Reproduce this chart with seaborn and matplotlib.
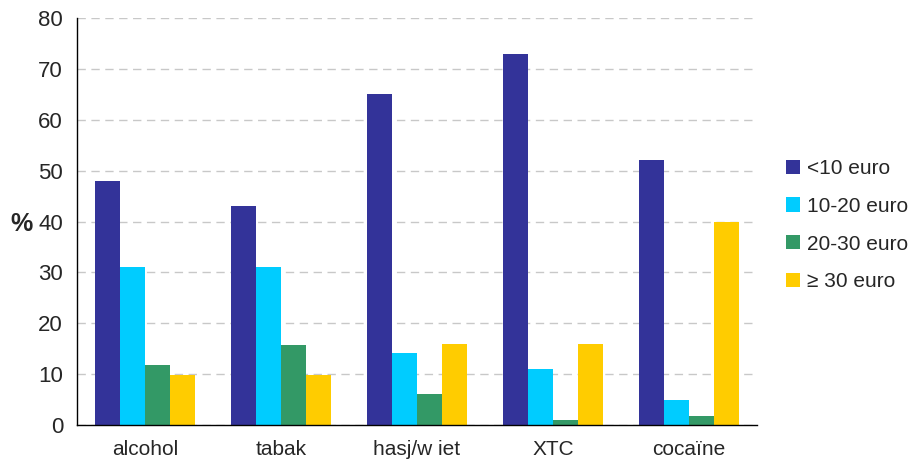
import pandas as pd
import seaborn as sns
import matplotlib.pyplot as plt
from matplotlib.patches import Patch

# data
middelen = ['alcohol', 'tabak', 'hasj/w iet', 'XTC', 'cocaïne']
klassen = ['<10 euro', '10-20 euro', '20-30 euro', '\u2265 30 euro']
onder_10 = [48, 43, 65, 73, 52]
van_10_20 = [31, 31, 14.2, 11, 4.9]
van_20_30 = [11.8, 15.8, 6.1, 1.0, 1.8]
boven_30 = [9.8, 9.8, 16, 16, 40]
kleuren = ['#333399', '#00CCFF', '#339966', '#FFCC00']

# long format for seaborn
rows = []
for klasse, waarden in zip(klassen, [onder_10, van_10_20, van_20_30, boven_30]):
    for middel, w in zip(middelen, waarden):
        rows.append({'middel': middel, 'klasse': klasse, 'pct': w})
df = pd.DataFrame(rows)

sns.set_style('white')
plt.rcParams['font.family'] = ['Liberation Sans', 'DejaVu Sans']

fig = plt.figure(figsize=(9.12, 4.68), dpi=100)
ax = fig.add_axes([0.0844, 0.0919, 0.7456, 0.8696])

sns.barplot(data=df, x='middel', y='pct', hue='klasse', order=middelen,
            hue_order=klassen, palette=kleuren, width=0.74, saturation=1,
            errorbar=None, legend=False, linewidth=0, edgecolor='none', ax=ax)

ax.set_ylim(0, 80)
ax.set_xlim(-0.5, len(middelen) - 0.5)
ax.set_yticks(range(0, 81, 10))
ax.yaxis.grid(True, linestyle=(0, (6, 4)), color='#c8c8c8', linewidth=1)
ax.set_axisbelow(True)

ax.set_xlabel('')
ax.set_ylabel('%', fontsize=18, fontweight='bold', rotation=0, va='center', ha='center')
ax.yaxis.set_label_coords(-0.082, 0.495)

# category separators as tick marks
ax.set_xticks([i - 0.5 for i in range(len(middelen) + 1)], minor=True)
ax.tick_params(axis='x', which='major', length=0, labelsize=15, pad=11)
ax.tick_params(axis='x', which='minor', length=5, width=1, color='black', direction='out')
ax.tick_params(axis='y', length=5, width=1, color='black', direction='out', labelsize=16, pad=5)

for s in ['top', 'right']:
    ax.spines[s].set_visible(False)
for s in ['left', 'bottom']:
    ax.spines[s].set_color('black')
    ax.spines[s].set_linewidth(1)

handles = [Patch(facecolor=c, edgecolor='none') for c in kleuren]
fig.legend(handles, klassen, loc='upper left', bbox_to_anchor=(0.862, 0.66),
           frameon=False, fontsize=15, handlelength=0.67, handleheight=0.67,
           handletextpad=0.33, labelspacing=0.9, borderpad=0, borderaxespad=0)

plt.savefig('out.png', dpi=100)
